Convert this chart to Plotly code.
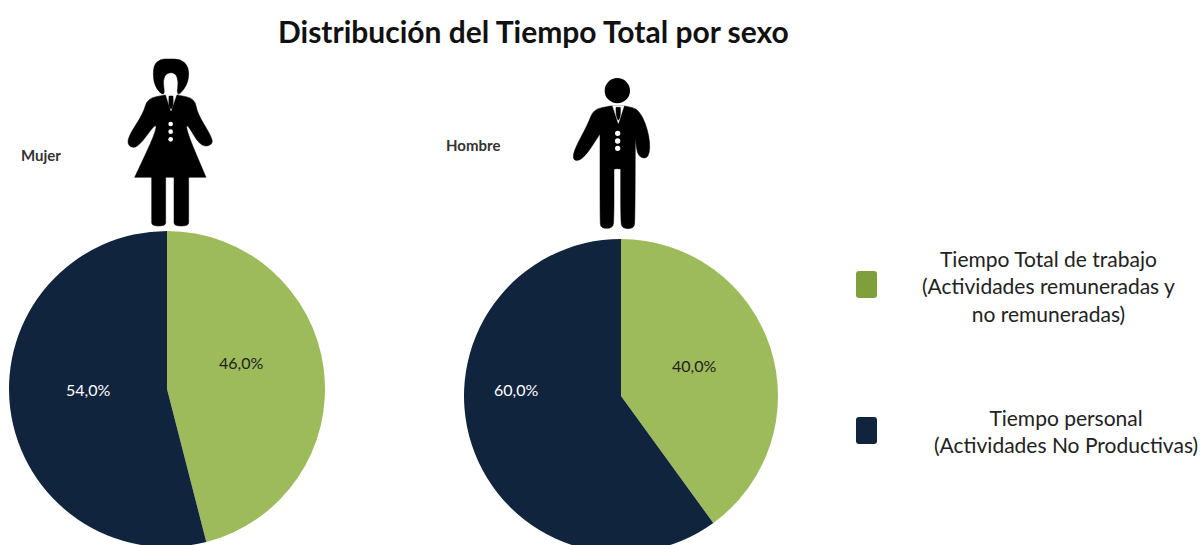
import plotly.graph_objects as go

# Datos de la distribución del tiempo por sexo
categorias = ["Tiempo Total de trabajo", "Tiempo personal"]
mujer = [46.0, 54.0]
hombre = [40.0, 60.0]
titulo = "Distribución del Tiempo Total por sexo"
leyenda_trabajo = "Tiempo Total de trabajo<br>(Actividades remuneradas y<br>no remuneradas)"
leyenda_personal = "Tiempo personal<br>(Actividades No Productivas)"

VERDE = "#9DBB5A"
AZUL = "#11243E"
VERDE_LEY = "#7F9F3C"
W, H = 1203, 560
FUENTE = "Lato"


def px(x):
    return x / W


def py(y):
    return 1 - y / H


def ruta(puntos, ox, oy, escala=1 / 3):
    """Contorno suavizado con cuadráticas entre puntos medios; un punto repetido deja una esquina."""
    p = [(px(ox + a * escala), py(oy + b * escala)) for a, b in puntos]
    n = len(p)
    med = [((p[i][0] + p[(i + 1) % n][0]) / 2, (p[i][1] + p[(i + 1) % n][1]) / 2) for i in range(n)]
    d = f"M{med[-1][0]:.5f},{med[-1][1]:.5f}"
    for i in range(n):
        d += f" Q{p[i][0]:.5f},{p[i][1]:.5f} {med[i][0]:.5f},{med[i][1]:.5f}"
    return d + " Z"


def figura(puntos, ox, oy, color="black"):
    return dict(type="path", xref="paper", yref="paper", path=ruta(puntos, ox, oy),
                fillcolor=color, line=dict(color=color, width=0.5), layer="above")


def circulo(cx, cy, r, ox, oy, color):
    return dict(type="circle", xref="paper", yref="paper",
                x0=px(ox + (cx - r) / 3), x1=px(ox + (cx + r) / 3),
                y0=py(oy + (cy - r) / 3), y1=py(oy + (cy + r) / 3),
                fillcolor=color, line=dict(width=0), layer="above")


def pierna(x0, x1, ytop, ybot, ox, oy):
    return figura([(x0, ytop), (x0, ytop), (x1, ytop), (x1, ytop), (x1, ybot - 20), (x1, ybot - 20),
                   (x1, ybot), (x0, ybot), (x0, ybot - 20), (x0, ybot - 20)], ox, oy)


def muestra(x0, x1, y0, y1, color):
    """Cuadro de leyenda con esquinas redondeadas."""
    r = 3
    d = (f"M{px(x0 + r):.5f},{py(y0):.5f} L{px(x1 - r):.5f},{py(y0):.5f} "
         f"Q{px(x1):.5f},{py(y0):.5f} {px(x1):.5f},{py(y0 + r):.5f} "
         f"L{px(x1):.5f},{py(y1 - r):.5f} Q{px(x1):.5f},{py(y1):.5f} {px(x1 - r):.5f},{py(y1):.5f} "
         f"L{px(x0 + r):.5f},{py(y1):.5f} Q{px(x0):.5f},{py(y1):.5f} {px(x0):.5f},{py(y1 - r):.5f} "
         f"L{px(x0):.5f},{py(y0 + r):.5f} Q{px(x0):.5f},{py(y0):.5f} {px(x0 + r):.5f},{py(y0):.5f} Z")
    return dict(type="path", xref="paper", yref="paper", layer="above", path=d,
                fillcolor=color, line=dict(width=0))


formas = []

# Pictograma de la mujer
ox, oy = 100, 50
formas.append(figura([(160, 100), (160, 45), (182, 27), (205, 27), (242, 27), (266, 50), (266, 95),
                      (242, 132), (230, 132), (236, 95), (226, 68), (200, 68), (188, 92),
                      (195, 132), (182, 132)], ox, oy))
formas.append(figura([(195, 135), (195, 135), (142, 145), (130, 190), (83, 262), (85, 290),
                      (114, 294), (170, 215), (166, 250), (104, 382), (104, 382), (318, 382),
                      (318, 382), (262, 250), (258, 215), (302, 292), (340, 284), (332, 255),
                      (292, 190), (284, 145), (232, 135), (232, 135)], ox, oy))
formas.append(pierna(155, 197, 375, 528, ox, oy))
formas.append(pierna(222, 266, 375, 528, ox, oy))
formas.append(figura([(197, 133), (197, 133), (213, 182), (213, 182), (230, 133), (230, 133)],
                     ox, oy, "white"))
formas.append(figura([(207, 138), (207, 138), (219, 138), (219, 138), (220, 165), (213, 180),
                      (206, 165)], ox, oy))
for cy in (222, 245, 268):
    formas.append(circulo(212, cy, 7, ox, oy, "white"))

# Pictograma del hombre
ox, oy = 560, 70
formas.append(circulo(172, 62, 38, ox, oy, "black"))
formas.append(figura([(150, 108), (150, 108), (100, 118), (85, 160), (38, 248), (42, 275), (72, 265),
                      (120, 192), (120, 192), (120, 450), (122, 475), (158, 475), (162, 450),
                      (162, 300), (162, 296), (182, 296), (182, 300), (182, 450), (186, 476),
                      (222, 476), (225, 450), (226, 205), (226, 205), (233, 262), (268, 266),
                      (270, 200), (240, 118), (195, 108), (195, 108)], ox, oy))
formas.append(figura([(158, 108), (158, 108), (175, 160), (175, 160), (192, 108), (192, 108)],
                     ox, oy, "white"))
formas.append(figura([(168, 112), (168, 112), (181, 112), (181, 112), (182, 135), (175, 155),
                      (168, 135)], ox, oy))
for cy in (190, 213, 235):
    formas.append(circulo(173, cy, 8, ox, oy, "white"))

# Muestras de la leyenda
formas.append(muestra(856, 877, 271, 298, VERDE_LEY))
formas.append(muestra(856, 877, 417, 444, AZUL))


def etiqueta(texto, x, y, size, color="#222222", **kw):
    return dict(text=texto, xref="paper", yref="paper", x=px(x), y=py(y),
                xanchor="center", yanchor="middle", showarrow=False,
                font=dict(family=FUENTE, size=size, color=color), **kw)


def porcentaje(v):
    return f"{v:.1f}%".replace(".", ",")


notas = [
    etiqueta(f"<b>{titulo}</b>", 533, 31, 30, "#111111"),
    etiqueta("<b>Mujer</b>", 41, 155, 15, "#333333"),
    etiqueta("<b>Hombre</b>", 473, 145, 15, "#333333"),
    etiqueta(porcentaje(mujer[0]), 241, 362, 16, "#222222"),
    etiqueta(porcentaje(mujer[1]), 88, 389, 16, "white"),
    etiqueta(porcentaje(hombre[0]), 694, 365, 16, "#222222"),
    etiqueta(porcentaje(hombre[1]), 516, 389, 16, "white"),
    etiqueta(leyenda_trabajo, 1048, 286, 21, "#222222", align="center"),
    etiqueta(leyenda_personal, 1066, 431, 21, "#222222", align="center"),
]


def torta(valores, nombre, x0, x1, y0, y1):
    return go.Pie(labels=categorias, values=valores, name=nombre, sort=False,
                  direction="clockwise", rotation=0, textinfo="none", hole=0,
                  marker=dict(colors=[VERDE, AZUL], line=dict(width=0)),
                  domain=dict(x=[px(x0), px(x1)], y=[py(y1), py(y0)]),
                  showlegend=False)


fig = go.Figure([
    torta(mujer, "Mujer", 9, 325, 231, 547),
    torta(hombre, "Hombre", 464, 778, 239, 553),
])
fig.update_layout(width=W, height=H, margin=dict(l=0, r=0, t=0, b=0),
                  paper_bgcolor="white", plot_bgcolor="white",
                  shapes=formas, annotations=notas)

# La hoja es algo más alta que la ventana: la base de las tortas queda recortada
fig.write_html("out.html", config=dict(displayModeBar=False),
               post_script="document.documentElement.style.overflow='hidden';"
                           "document.body.style.overflow='hidden';")
